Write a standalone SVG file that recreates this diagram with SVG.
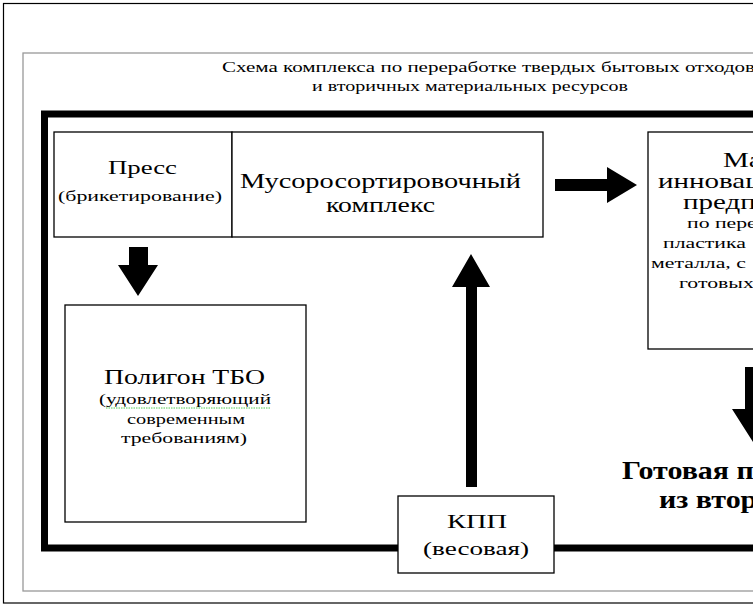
<svg xmlns="http://www.w3.org/2000/svg" width="753" height="606" viewBox="0 0 753 606">
<style>
.box{fill:#fff;stroke:#000;stroke-width:1.3}
text{font-family:'Liberation Serif','Times New Roman','DejaVu Serif',serif;fill:#000}
.arrow{fill:#000;stroke:none}
</style>
<rect width="753" height="606" fill="#fff"/>
<g id="page">
<rect x="3.5" y="3.5" width="800" height="599.5" fill="none" stroke="#000" stroke-width="1.2"/>
<rect x="23" y="53" width="800" height="538" fill="none" stroke="#999" stroke-width="1.3"/>
<rect x="44.5" y="114" width="800" height="434" fill="none" stroke="#000" stroke-width="7"/>
</g>
<g id="title">
<text x="222" y="72" font-size="15" textLength="533" lengthAdjust="spacingAndGlyphs">Схема комплекса по переработке твердых бытовых отходов</text>
<text x="312" y="91" font-size="15" textLength="316" lengthAdjust="spacingAndGlyphs">и вторичных материальных ресурсов</text>
</g>
<g id="connectors">
<polygon class="arrow" points="129,247 148,247 148,265 158,265 138,296 118,265 129,265"/>
<polygon class="arrow" points="466,487 477,487 477,287 490,287 471,254 452,287 466,287"/>
<polygon class="arrow" points="555,179 607,179 607,167 637,185 607,203 607,191 555,191"/>
<polygon class="arrow" points="745,367 771,367 771,409 784,409 758,450 732,409 745,409"/>
</g>
<g id="press">
<rect class="box" x="54" y="132" width="178" height="105"/>
<text x="108" y="174" font-size="19" textLength="69" lengthAdjust="spacingAndGlyphs">Пресс</text>
<text x="58" y="201" font-size="15" textLength="164" lengthAdjust="spacingAndGlyphs">(брикетирование)</text>
</g>
<g id="sorting">
<rect class="box" x="232" y="132" width="311" height="105"/>
<text x="240" y="188" font-size="20" textLength="281" lengthAdjust="spacingAndGlyphs">Мусоросортировочный</text>
<text x="326" y="212" font-size="20" textLength="109" lengthAdjust="spacingAndGlyphs">комплекс</text>
</g>
<g id="enterprise">
<rect class="box" x="648" y="132" width="200" height="217"/>
<text transform="translate(723,167) scale(1.45,1)" font-size="20">Ма</text>
<text transform="translate(658,188) scale(1.45,1)" font-size="20">инновац</text>
<text transform="translate(683,209) scale(1.45,1)" font-size="20">предп</text>
<text transform="translate(687,228) scale(1.45,1)" font-size="15">по пере</text>
<text transform="translate(663,248) scale(1.45,1)" font-size="15">пластика</text>
<text transform="translate(651,268) scale(1.45,1)" font-size="15">металла, с</text>
<text transform="translate(679,288) scale(1.45,1)" font-size="15">готовых</text>
</g>
<g id="landfill">
<rect class="box" x="65" y="305" width="241" height="217"/>
<text x="104" y="384" font-size="20" textLength="161" lengthAdjust="spacingAndGlyphs">Полигон ТБО</text>
<text x="99" y="404" font-size="15" textLength="172" lengthAdjust="spacingAndGlyphs">(удовлетворяющий</text>
<path d="M106,408 H270" fill="none" stroke="#5c5" stroke-width="1" stroke-dasharray="1.5 1"/>
<text x="127" y="424" font-size="15" textLength="118" lengthAdjust="spacingAndGlyphs">современным</text>
<text x="121" y="443" font-size="15" textLength="126" lengthAdjust="spacingAndGlyphs">требованиям)</text>
</g>
<g id="checkpoint">
<rect class="box" x="398" y="496" width="156" height="77"/>
<text x="447" y="528" font-size="19" textLength="60" lengthAdjust="spacingAndGlyphs">КПП</text>
<text x="423" y="555" font-size="19" textLength="106" lengthAdjust="spacingAndGlyphs">(весовая)</text>
</g>
<g id="product">
<text transform="translate(622,479) scale(1.2,1)" font-size="25" font-weight="bold">Готовая п</text>
<text transform="translate(659,508) scale(1.2,1)" font-size="25" font-weight="bold">из втор</text>
</g>
</svg>
